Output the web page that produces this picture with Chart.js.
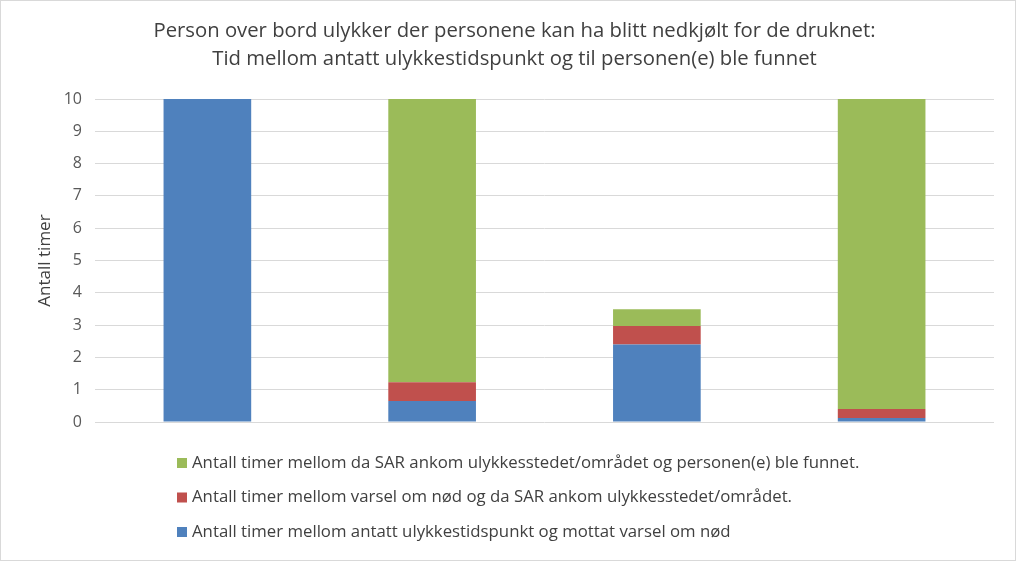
<!DOCTYPE html>
<html>
<head>
<meta charset="utf-8">
<script src="https://cdn.jsdelivr.net/npm/chart.js@4.4.0/dist/chart.umd.min.js"></script>
<style>
  html, body { margin: 0; padding: 0; background: #fff; }
  #wrap { width: 1016px; height: 561px; box-sizing: border-box; border: 1px solid #d9d9d9; }
</style>
</head>
<body>
<div id="wrap"><canvas id="myChart" width="1014" height="559"></canvas></div>
<script>
// Kategorier (ingen etiketter under søylene)
const kategorier = ['', '', '', ''];

// Antall timer per fase
const timerTilVarsel = [10, 0.65, 2.4, 0.12];
const timerTilSAR = [0, 0.58, 0.57, 0.28];
const timerTilFunnet = [0, 8.77, 0.52, 9.6];

const yTicks = [0, 1, 2, 3, 4, 5, 6, 7, 8, 9, 10];

const tittel = [
    'Person over bord ulykker der personene kan ha blitt nedkjølt for de druknet:',
    'Tid mellom antatt ulykkestidspunkt og til personen(e) ble funnet'
];

const fontFamily = '"Open Sans", Lato, sans-serif';

// Legende tegnet som en loddrett liste, venstrejustert
const listeLegende = {
    id: 'listeLegende',
    afterDraw(chart) {
        const ctx = chart.ctx;
        const sets = chart.data.datasets.slice().reverse();
        ctx.save();
        ctx.font = '16.8px ' + fontFamily;
        ctx.textBaseline = 'middle';
        sets.forEach(function(ds, i) {
            let y = 462 + i * 34.5;
            ctx.fillStyle = ds.backgroundColor;
            ctx.fillRect(176, y - 5, 10, 10);
            ctx.fillStyle = '#404040';
            ctx.fillText(ds.label, 191, y);
        });
        ctx.restore();
    }
};

let ctx = document.getElementById('myChart').getContext('2d');

const myChart = new Chart(ctx, {
    type: 'bar',
    data: {
        labels: kategorier,
        datasets: [{
            label: 'Antall timer mellom antatt ulykkestidspunkt og mottat varsel om nød',
            data: timerTilVarsel,
            backgroundColor: '#4F81BD'
        }, {
            label: 'Antall timer mellom varsel om nød og da SAR ankom ulykkesstedet/området.',
            data: timerTilSAR,
            backgroundColor: '#C0504D'
        }, {
            label: 'Antall timer mellom da SAR ankom ulykkesstedet/området og personen(e) ble funnet.',
            data: timerTilFunnet,
            backgroundColor: '#9BBB59'
        }]
    },
    options: {
        responsive: false,
        animation: false,
        layout: { padding: { left: 34, right: 21, bottom: 138 } },
        datasets: {
            bar: { categoryPercentage: 1, barPercentage: 0.39 }
        },
        plugins: {
            legend: { display: false },
            tooltip: { enabled: false },
            title: {
                display: true,
                text: tittel,
                color: '#404040',
                font: { family: fontFamily, size: 20.3, weight: 'normal', lineHeight: 1.38 },
                padding: { top: 16, bottom: 26 }
            }
        },
        scales: {
            x: {
                stacked: true,
                ticks: { display: false },
                grid: { display: false },
                border: { display: false },
                afterFit: function(axis) { axis.height = 0; }
            },
            y: {
                stacked: true,
                min: 0,
                max: 10,
                afterBuildTicks: function(axis) {
                    axis.ticks = yTicks.map(function(v) { return { value: v }; });
                },
                afterFit: function(axis) { axis.width = 60; },
                ticks: {
                    color: '#595959',
                    padding: 13,
                    font: { family: fontFamily, size: 16 }
                },
                grid: { color: '#d9d9d9', drawTicks: false },
                border: { display: false },
                title: {
                    display: true,
                    text: 'Antall timer',
                    color: '#404040',
                    font: { family: fontFamily, size: 17 },
                    padding: { top: 0, bottom: 0 }
                }
            }
        }
    },
    plugins: [listeLegende]
});
</script>
</body>
</html>
